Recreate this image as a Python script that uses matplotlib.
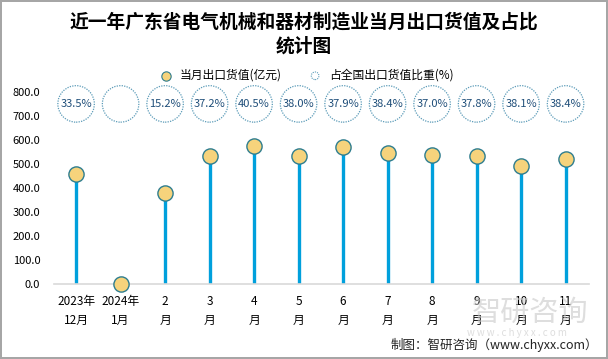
import matplotlib.pyplot as plt
import numpy as np

plt.rcParams['font.family'] = ['Microsoft YaHei', 'Noto Sans CJK SC', 'DejaVu Sans']

months = ['2023年\n12月', '2024年\n1月', '2\n月', '3\n月', '4\n月', '5\n月',
          '6\n月', '7\n月', '8\n月', '9\n月', '10\n月', '11\n月']
export_value = [458, 0, 380, 533, 575, 533, 569, 547, 537, 533, 492, 522]
share_pct = [33.5, None, 15.2, 37.2, 40.5, 38.0, 37.9, 38.4, 37.0, 37.8, 38.1, 38.4]

fig = plt.figure(figsize=(6.08, 3.59), dpi=100)
fig.patch.set_edgecolor('#a6a6a6')
fig.patch.set_linewidth(1.5)
ax = fig.add_axes([0.089, 0.209, 0.88, 0.535])

x = np.arange(len(months))
ax.vlines(x, 0, export_value, color='#00a0dc', linewidth=2.4, zorder=2)
ax.scatter(x, export_value, s=120, color='#f6d37c', edgecolor='#2e7d8f',
           linewidth=1.0, zorder=3, clip_on=False)

circle_y = 750
ax.scatter(x, [circle_y] * len(x), s=690, facecolor='none', edgecolor='#5b9bb8',
           linewidth=0.9, linestyle=(0, (1, 1)), zorder=3, clip_on=False)
for xi, p in zip(x, share_pct):
    if p is not None:
        ax.text(xi, circle_y, f'{p:.1f}%', ha='center', va='center',
                fontsize=8, color='#1f4e79')

# legend proxies
h1 = ax.scatter([], [], s=45, color='#f6d37c', edgecolor='#2e7d8f', linewidth=0.8)
h2 = ax.scatter([], [], s=30, facecolor='none', edgecolor='#5b9bb8',
                linewidth=0.8, linestyle=(0, (1, 1)))
fig.legend([h1, h2], ['当月出口货值(亿元)', '占全国出口货值比重(%)'],
           loc='center', bbox_to_anchor=(0.5, 0.79), ncol=2, frameon=False,
           fontsize=8.5, handletextpad=0.2, columnspacing=1.8)

ax.set_xlim(-0.494, 11.53)
ax.set_ylim(0, 800)
ax.set_yticks(np.arange(0, 801, 100))
ax.set_yticklabels([f'{v:.1f}' for v in np.arange(0, 801, 100)], fontsize=8)
ax.set_xticks(x)
ax.set_xticklabels(months, fontsize=8.5, linespacing=1.6)
ax.tick_params(length=0, pad=8)
ax.tick_params(axis='y', pad=10)
for s in ['top', 'right', 'left']:
    ax.spines[s].set_visible(False)
ax.spines['bottom'].set_color('#d9d9d9')
ax.spines['bottom'].set_linewidth(1.2)

fig.text(0.5, 0.905, '近一年广东省电气机械和器材制造业当月出口货值及占比\n统计图',
         ha='center', va='center', fontsize=13.5, fontweight='bold',
         linespacing=1.3)

# watermark
fig.text(0.872, 0.128, '智研咨询', ha='center', va='center', fontsize=21,
         color='#c8c8c8', alpha=0.6)
fig.text(0.85, 0.072, 'w w w . c h y x x . c o m', ha='center', va='center',
         fontsize=7, color='#c8c8c8', alpha=0.6)

fig.text(0.983, 0.04, '制图：智研咨询（www.chyxx.com）', ha='right', va='center',
         fontsize=9, color='#222222')

fig.savefig('out.png', dpi=100)
